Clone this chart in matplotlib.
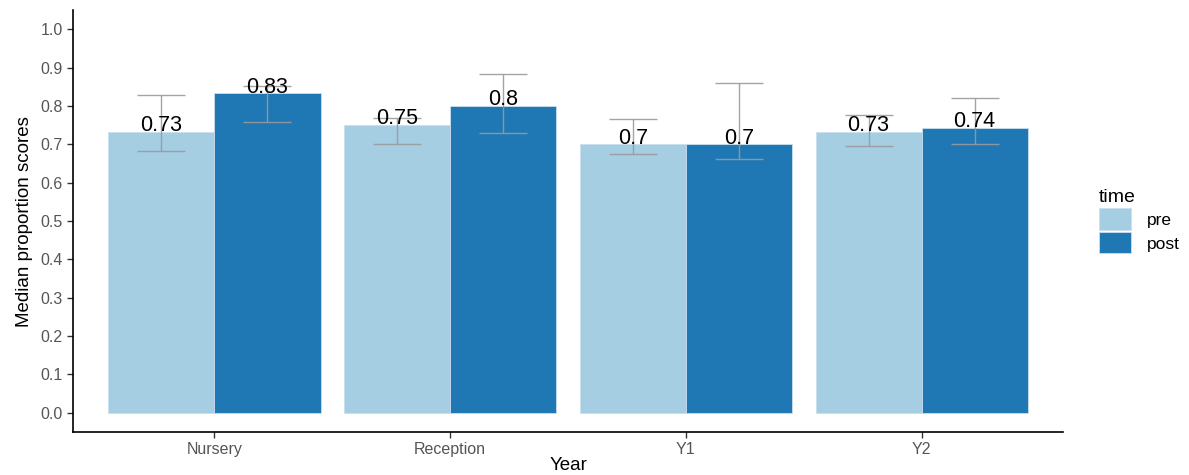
import numpy as np
import matplotlib.pyplot as plt

plt.rcParams['font.family'] = ['Liberation Sans', 'DejaVu Sans']

years = ['Nursery', 'Reception', 'Y1', 'Y2']
times = ['pre', 'post']

pre_median = [0.733, 0.750, 0.700, 0.733]
post_median = [0.833, 0.800, 0.700, 0.744]

pre_lower = [0.683, 0.701, 0.676, 0.697]
pre_upper = [0.829, 0.768, 0.767, 0.776]
post_lower = [0.758, 0.730, 0.663, 0.700]
post_upper = [0.853, 0.883, 0.860, 0.820]

colours = {'pre': '#A6CEE3', 'post': '#1F78B4'}

fig = plt.figure(figsize=(11.89, 4.75), dpi=100)
ax = fig.add_axes([0.0614, 0.0905, 0.8327, 0.888])

x = np.arange(len(years))
dodge = 0.9
w = dodge / 2

series = [
    ('pre', pre_median, pre_lower, pre_upper, -w / 2),
    ('post', post_median, post_lower, post_upper, w / 2),
]

for name, med, lo, hi, off in series:
    ax.bar(x + off, med, width=w, color=colours[name], edgecolor='#c9e0ee',
           linewidth=0.6, label=name, zorder=2)

for name, med, lo, hi, off in series:
    med = np.array(med)
    err = [med - np.array(lo), np.array(hi) - med]
    ax.errorbar(x + off, med, yerr=err, fmt='none', ecolor='#9a9a9a',
                elinewidth=1.0, capsize=17, capthick=1.0, alpha=0.9, zorder=3)
    for xi, v in zip(x + off, med):
        ax.text(xi, v + 0.002, f"{round(v, 2):g}", ha='center', va='baseline',
                fontsize=15.5, color='black', zorder=4)

ax.set_xlim(-0.6, len(years) - 0.4)
ax.set_ylim(-0.05, 1.05)
ax.set_yticks(np.arange(0, 1.01, 0.1))
ax.set_yticklabels([f"{t:.1f}" for t in np.arange(0, 1.01, 0.1)])
ax.set_xticks(x)
ax.set_xticklabels(years)

for s in ['top', 'right']:
    ax.spines[s].set_visible(False)
for s in ['left', 'bottom']:
    ax.spines[s].set_linewidth(1.2)
    ax.spines[s].set_color('black')

ax.tick_params(axis='both', colors='#333333', labelcolor='#555555',
               labelsize=11.5, length=4, width=1)
ax.tick_params(axis='x', pad=3)
ax.set_ylabel('Median proportion scores', fontsize=13.5, labelpad=5)
ax.set_xlabel('Year', fontsize=13.5, labelpad=0)

leg = ax.legend(title='time', loc='center left', bbox_to_anchor=(1.02, 0.5),
                frameon=False, fontsize=12.5, title_fontsize=14,
                handlelength=1.9, handleheight=1.5, handletextpad=0.9,
                labelspacing=0.15)
leg._legend_box.align = 'left'

fig.savefig('out.png', dpi=100)
